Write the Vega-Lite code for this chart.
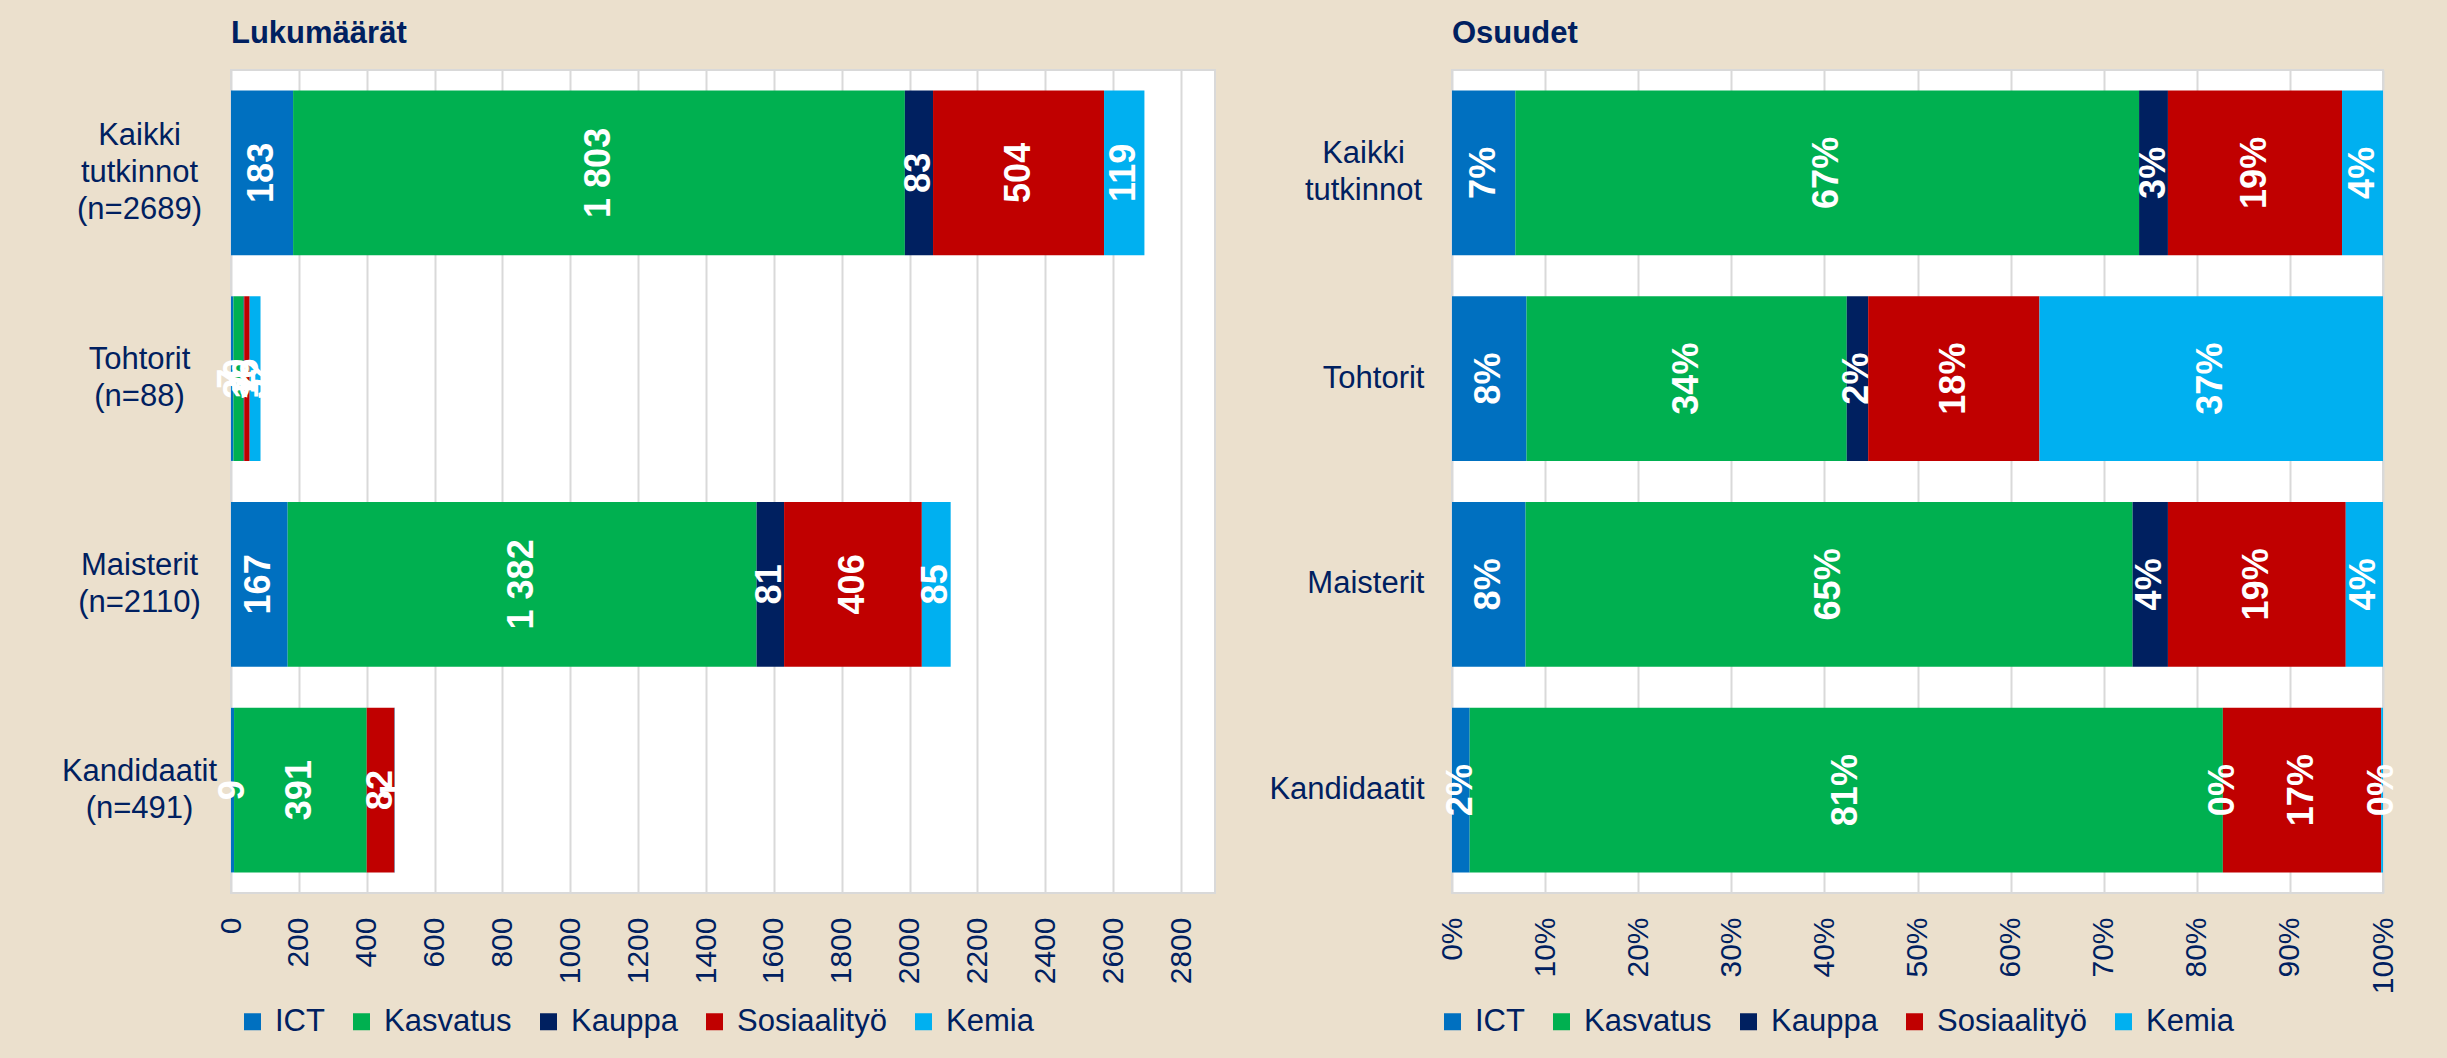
{
  "$schema": "https://vega.github.io/schema/vega-lite/v6.json",
  "background": "#EBE0CD",
  "padding": {"left": 0, "top": 17, "right": 67, "bottom": 20},
  "spacing": 35,
  "config": {
    "locale": {"number": {"decimal": ",", "thousands": " ", "grouping": [3], "currency": ["", " €"]}},
    "font": "Liberation Sans",
    "view": {"fill": "white", "stroke": "#D9D9D9", "strokeWidth": 2},
    "axis": {"labelFont": "Liberation Sans", "labelColor": "#002060", "labelFontSize": 31},
    "legend": {"labelFont": "Liberation Sans", "labelColor": "#002060", "labelFontSize": 31},
    "title": {"font": "Liberation Sans", "fontSize": 31, "fontWeight": "bold", "color": "#002060", "anchor": "start", "frame": "group", "baseline": "alphabetic", "offset": 20}
  },
  "data": {
    "values": [
      {"tutkinto": "Kaikki tutkinnot", "ala": "ICT", "jarjestys": 1, "lukumaara": 183, "osuus": 0.068},
      {"tutkinto": "Kaikki tutkinnot", "ala": "Kasvatus", "jarjestys": 2, "lukumaara": 1803, "osuus": 0.670},
      {"tutkinto": "Kaikki tutkinnot", "ala": "Kauppa", "jarjestys": 3, "lukumaara": 83, "osuus": 0.031},
      {"tutkinto": "Kaikki tutkinnot", "ala": "Sosiaalityö", "jarjestys": 4, "lukumaara": 504, "osuus": 0.187},
      {"tutkinto": "Kaikki tutkinnot", "ala": "Kemia", "jarjestys": 5, "lukumaara": 119, "osuus": 0.044},
      {"tutkinto": "Tohtorit", "ala": "ICT", "jarjestys": 1, "lukumaara": 7, "osuus": 0.080},
      {"tutkinto": "Tohtorit", "ala": "Kasvatus", "jarjestys": 2, "lukumaara": 30, "osuus": 0.344},
      {"tutkinto": "Tohtorit", "ala": "Kauppa", "jarjestys": 3, "lukumaara": 2, "osuus": 0.023},
      {"tutkinto": "Tohtorit", "ala": "Sosiaalityö", "jarjestys": 4, "lukumaara": 16, "osuus": 0.184},
      {"tutkinto": "Tohtorit", "ala": "Kemia", "jarjestys": 5, "lukumaara": 32, "osuus": 0.369},
      {"tutkinto": "Maisterit", "ala": "ICT", "jarjestys": 1, "lukumaara": 167, "osuus": 0.079},
      {"tutkinto": "Maisterit", "ala": "Kasvatus", "jarjestys": 2, "lukumaara": 1382, "osuus": 0.652},
      {"tutkinto": "Maisterit", "ala": "Kauppa", "jarjestys": 3, "lukumaara": 81, "osuus": 0.038},
      {"tutkinto": "Maisterit", "ala": "Sosiaalityö", "jarjestys": 4, "lukumaara": 406, "osuus": 0.191},
      {"tutkinto": "Maisterit", "ala": "Kemia", "jarjestys": 5, "lukumaara": 85, "osuus": 0.040},
      {"tutkinto": "Kandidaatit", "ala": "ICT", "jarjestys": 1, "lukumaara": 9, "osuus": 0.019},
      {"tutkinto": "Kandidaatit", "ala": "Kasvatus", "jarjestys": 2, "lukumaara": 391, "osuus": 0.809},
      {"tutkinto": "Kandidaatit", "ala": "Kauppa", "jarjestys": 3, "lukumaara": 0, "osuus": 0.000},
      {"tutkinto": "Kandidaatit", "ala": "Sosiaalityö", "jarjestys": 4, "lukumaara": 82, "osuus": 0.170},
      {"tutkinto": "Kandidaatit", "ala": "Kemia", "jarjestys": 5, "lukumaara": 1, "osuus": 0.002}
    ]
  },
  "resolve": {"scale": {"color": "independent"}, "legend": {"color": "independent"}},
  "hconcat": [
    {
      "width": 984,
      "height": 823,
      "title": {"text": "Lukumäärät"},
      "layer": [
        {
          "mark": {"type": "bar"},
          "encoding": {
            "y": {"field": "tutkinto", "type": "nominal", "sort": ["Kaikki tutkinnot", "Tohtorit", "Maisterit", "Kandidaatit"],
              "scale": {"paddingInner": 0.2, "paddingOuter": 0.1},
              "axis": {"title": null, "domain": false, "ticks": false, "tickSize": 0, "labelAlign": "center", "labelPadding": 92, "labelLineHeight": 37, "labelLimit": 0, "minExtent": 230, "maxExtent": 230,
                "labelOffset": {"condition": {"test": "datum.value == 'Kaikki tutkinnot'", "value": -37}, "value": -18.5},
                "labelExpr": "datum.value == 'Kaikki tutkinnot' ? ['Kaikki','tutkinnot','(n=2689)'] : datum.value == 'Tohtorit' ? ['Tohtorit','(n=88)'] : datum.value == 'Maisterit' ? ['Maisterit','(n=2110)'] : ['Kandidaatit','(n=491)']"}},
            "x": {"field": "lukumaara", "type": "quantitative", "stack": "zero",
              "scale": {"domain": [0, 2900], "nice": false},
              "axis": {"title": null, "values": [0, 200, 400, 600, 800, 1000, 1200, 1400, 1600, 1800, 2000, 2200, 2400, 2600, 2800], "format": "d", "labelAngle": -90, "labelPadding": 24, "labelFontSize": 30, "grid": true, "gridColor": "#D9D9D9", "gridWidth": 2, "domain": false, "ticks": false, "tickSize": 0, "labelFlush": false, "labelOverlap": false}},
            "color": {"field": "ala", "type": "nominal",
              "scale": {"domain": ["ICT", "Kasvatus", "Kauppa", "Sosiaalityö", "Kemia"], "range": ["#0070C0", "#00B050", "#002060", "#C00000", "#00B0F0"]},
              "legend": {"orient": "none", "legendX": 6, "legendY": 936, "direction": "horizontal", "title": null, "symbolType": "square", "symbolSize": 289, "symbolStrokeWidth": 0, "columnPadding": 21, "labelOffset": 7, "padding": 0, "labelLimit": 0}},
            "order": {"field": "jarjestys", "type": "quantitative"}
          }
        },
        {
          "transform": [{"filter": "datum.lukumaara > 0"}],
          "mark": {"type": "text", "angle": 270, "align": "center", "baseline": "middle", "color": "white", "fontWeight": "bold", "fontSize": 36, "font": "Liberation Sans"},
          "encoding": {
            "y": {"field": "tutkinto", "type": "nominal", "sort": ["Kaikki tutkinnot", "Tohtorit", "Maisterit", "Kandidaatit"]},
            "x": {"field": "lukumaara", "type": "quantitative", "stack": "zero", "bandPosition": 0.5},
            "detail": {"field": "ala"},
            "order": {"field": "jarjestys", "type": "quantitative"},
            "text": {"field": "lukumaara", "type": "quantitative", "format": ",d"}
          }
        }
      ]
    },
    {
      "width": 931,
      "height": 823,
      "title": {"text": "Osuudet"},
      "layer": [
        {
          "mark": {"type": "bar"},
          "encoding": {
            "y": {"field": "tutkinto", "type": "nominal", "sort": ["Kaikki tutkinnot", "Tohtorit", "Maisterit", "Kandidaatit"],
              "scale": {"paddingInner": 0.2, "paddingOuter": 0.1},
              "axis": {"title": null, "domain": false, "ticks": false, "tickSize": 0, "labelLineHeight": 37, "labelLimit": 0, "minExtent": 200, "maxExtent": 200,
                "labelAlign": {"condition": {"test": "datum.value == 'Kaikki tutkinnot'", "value": "center"}, "value": "right"},
                "labelPadding": {"condition": {"test": "datum.value == 'Kaikki tutkinnot'", "value": 89}, "value": 28},
                "labelOffset": {"condition": {"test": "datum.value == 'Kaikki tutkinnot'", "value": -18.5}, "value": 0},
                "labelExpr": "datum.value == 'Kaikki tutkinnot' ? ['Kaikki','tutkinnot'] : datum.value"}},
            "x": {"field": "osuus", "type": "quantitative", "stack": "zero",
              "scale": {"domain": [0, 1], "nice": false},
              "axis": {"title": null, "values": [0, 0.1, 0.2, 0.3, 0.4, 0.5, 0.6, 0.7, 0.8, 0.9, 1], "format": ".0%", "labelAngle": -90, "labelPadding": 24, "labelFontSize": 30, "grid": true, "gridColor": "#D9D9D9", "gridWidth": 2, "domain": false, "ticks": false, "tickSize": 0, "labelFlush": false, "labelOverlap": false}},
            "color": {"field": "ala", "type": "nominal",
              "scale": {"domain": ["ICT", "Kasvatus", "Kauppa", "Sosiaalityö", "Kemia"], "range": ["#0070C0", "#00B050", "#002060", "#C00000", "#00B0F0"]},
              "legend": {"orient": "none", "legendX": -15, "legendY": 936, "direction": "horizontal", "title": null, "symbolType": "square", "symbolSize": 289, "symbolStrokeWidth": 0, "columnPadding": 21, "labelOffset": 7, "padding": 0, "labelLimit": 0}},
            "order": {"field": "jarjestys", "type": "quantitative"}
          }
        },
        {
          "mark": {"type": "text", "angle": 270, "align": "center", "baseline": "middle", "color": "white", "fontWeight": "bold", "fontSize": 36, "font": "Liberation Sans"},
          "encoding": {
            "y": {"field": "tutkinto", "type": "nominal", "sort": ["Kaikki tutkinnot", "Tohtorit", "Maisterit", "Kandidaatit"]},
            "x": {"field": "osuus", "type": "quantitative", "stack": "zero", "bandPosition": 0.5},
            "detail": {"field": "ala"},
            "order": {"field": "jarjestys", "type": "quantitative"},
            "text": {"field": "osuus", "type": "quantitative", "format": ".0%"}
          }
        }
      ]
    }
  ]
}
